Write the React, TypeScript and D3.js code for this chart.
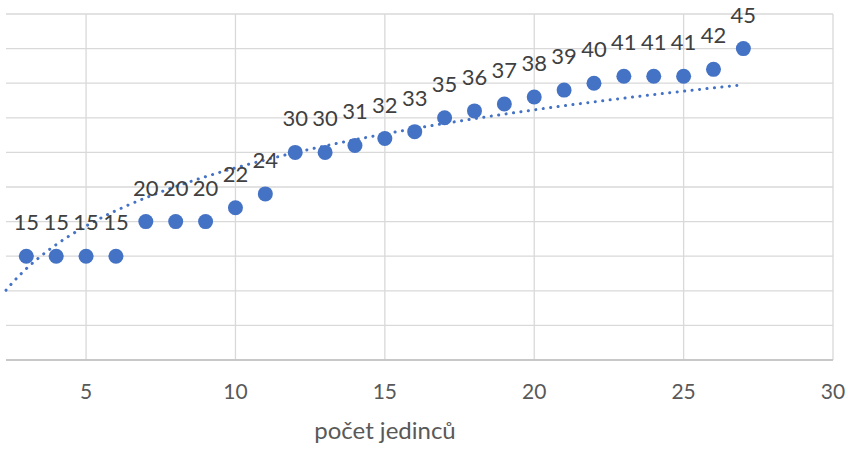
import React from "react";
import * as d3 from "d3";

const xValues = [3, 4, 5, 6, 7, 8, 9, 10, 11, 12, 13, 14, 15, 16, 17, 18, 19, 20, 21, 22, 23, 24, 25, 26, 27];
const yValues = [15, 15, 15, 15, 20, 20, 20, 22, 24, 30, 30, 31, 32, 33, 35, 36, 37, 38, 39, 40, 41, 41, 41, 42, 45];
const xTicks = [5, 10, 15, 20, 25, 30];
const yGrid = [0, 5, 10, 15, 20, 25, 30, 35, 40, 45, 50];
const xTitle = "počet jedinců";
// logarithmic trendline y = trendA * ln(x) + trendB
const trendA = 12.1;
const trendB = -0.1;
const trendRange = [2.32, 27];

const W = 848;
const H = 450;
const FONT = "Lato, 'Open Sans', sans-serif";
const BLUE = "#4472C4";

export default function App() {
  const x = d3.scaleLinear().domain([2.32, 30]).range([6, 833]);
  const y = d3.scaleLinear().domain([0, 50]).range([360, 14]);

  const trendX = d3.range(trendRange[0], trendRange[1] + 0.0001, 0.1);
  const trendPath = d3
    .line<number>()
    .x((d) => x(d))
    .y((d) => y(trendA * Math.log(d) + trendB))
    .curve(d3.curveMonotoneX)(trendX) as string;

  return (
    <svg
      width={W}
      height={H}
      style={{ position: "absolute", left: 0, top: 0, background: "#fff" }}
      fontFamily={FONT}
    >
      {yGrid.map((g) => (
        <line key={"h" + g} x1={x(2.32)} x2={x(30)} y1={y(g)} y2={y(g)} stroke="#d9d9d9" strokeWidth={1.3} />
      ))}
      {xTicks.map((t) => (
        <line key={"v" + t} x1={x(t)} x2={x(t)} y1={y(0)} y2={y(50)} stroke="#d9d9d9" strokeWidth={1.3} />
      ))}
      <line x1={x(2.32)} x2={x(30)} y1={y(0)} y2={y(0)} stroke="#bfbfbf" strokeWidth={1.5} />
      {xTicks.map((t) => (
        <text key={"t" + t} x={x(t)} y={399} textAnchor="middle" fontSize={21} fill="#595959">
          {t}
        </text>
      ))}
      <text x={385} y={439} textAnchor="middle" fontSize={24} fill="#595959">
        {xTitle}
      </text>
      <path d={trendPath} fill="none" stroke={BLUE} strokeWidth={3} strokeDasharray="0.1 7.4" strokeLinecap="round" />
      {xValues.map((v, i) => (
        <circle key={"c" + i} cx={x(v)} cy={y(yValues[i])} r={7.5} fill={BLUE} />
      ))}
      {xValues.map((v, i) => (
        <text key={"l" + i} x={x(v)} y={y(yValues[i]) - 26} textAnchor="middle" fontSize={22} fill="#404040">
          {yValues[i]}
        </text>
      ))}
    </svg>
  );
}
